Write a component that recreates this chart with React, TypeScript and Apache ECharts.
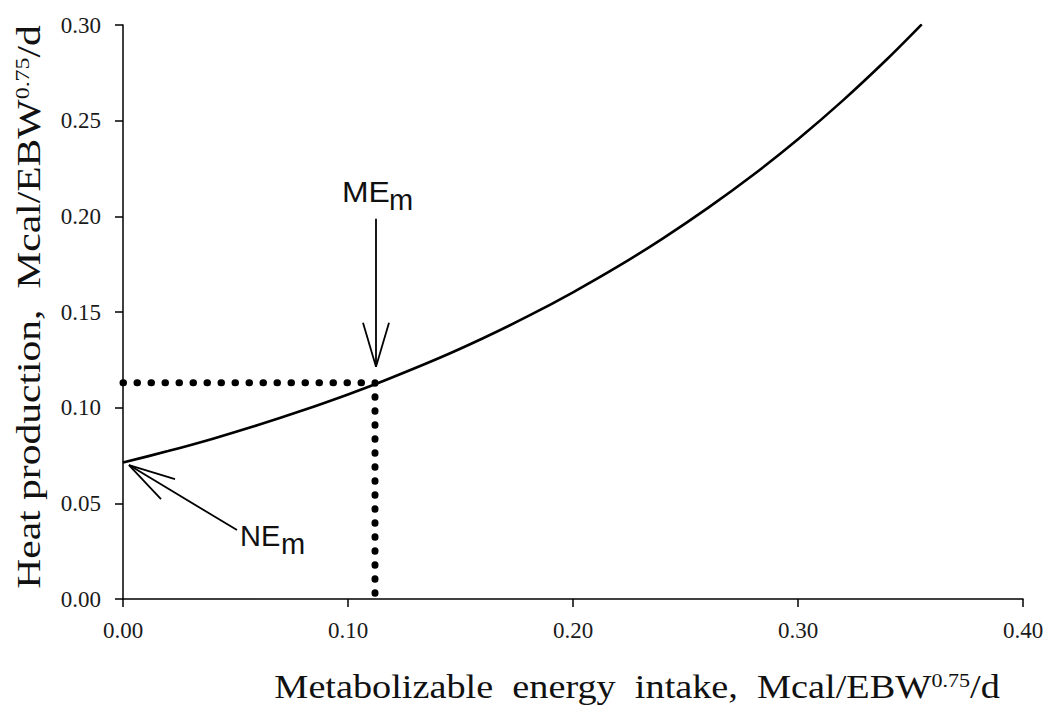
import React, { useEffect, useRef } from "react";
import * as echarts from "echarts";

// Metabolizable energy intake (Mcal/EBW^0.75/d) and heat production
const meIntake = [0, 0.02, 0.04, 0.06, 0.08, 0.1, 0.112, 0.14, 0.16, 0.18, 0.2, 0.22, 0.24, 0.26, 0.28, 0.3, 0.32, 0.34, 0.355];
const heatProduction = [0.0713, 0.0773, 0.0838, 0.0909, 0.0986, 0.1069, 0.1122, 0.1257, 0.1363, 0.1478, 0.1603, 0.1738, 0.1885, 0.2044, 0.2216, 0.2403, 0.2606, 0.2826, 0.3003];

// dotted guide through ME_m
const guideX = [0, 0.112, 0.112];
const guideY = [0.113, 0.113, 0];

const meM = [0.112, 0.113];
const neM = [0, 0.0713];

const xTicks = { min: 0, max: 0.4, interval: 0.1 };
const yTicks = { min: 0, max: 0.3, interval: 0.05 };

const xTitle = ["Metabolizable  energy  intake,  Mcal/EBW", "0.75", "/d"];
const yTitle = ["Heat production,  Mcal/EBW", "0.75", "/d"];

export default function App() {
  const ref = useRef<HTMLDivElement>(null);
  useEffect(() => {
    document.body.style.margin = "0";
    const chart = echarts.init(ref.current!, null, { renderer: "svg" });
    const serif = "'Liberation Serif', 'Times New Roman', serif";
    const sans = "'Liberation Sans', Arial, sans-serif";
    const axisCommon = {
      axisLine: { show: true, lineStyle: { color: "#000", width: 1.5 } },
      axisTick: { show: true, length: 8, lineStyle: { color: "#000", width: 1.5 } },
      splitLine: { show: false },
      axisLabel: { fontFamily: serif, fontSize: 23, color: "#1a1a1a", formatter: (v: number) => v.toFixed(2) },
    };
    chart.setOption({
      animation: false,
      backgroundColor: "#fff",
      grid: { left: 123, right: 23, top: 25, bottom: 106, outerBoundsMode: "none", containLabel: false },
      xAxis: {
        type: "value",
        ...xTicks,
        ...axisCommon,
        axisLabel: { ...axisCommon.axisLabel, margin: 20 },
      },
      yAxis: {
        type: "value",
        ...yTicks,
        ...axisCommon,
        axisLabel: { ...axisCommon.axisLabel, margin: 22 },
      },
      series: [
        {
          type: "line",
          data: meIntake.map((x, i) => [x, heatProduction[i]]),
          showSymbol: false,
          symbol: "none",
          smooth: 0.3,
          lineStyle: { color: "#000", width: 2.6 },
          z: 3,
        },
        {
          type: "line",
          data: guideX.map((x, i) => [x, guideY[i]]),
          showSymbol: false,
          symbol: "none",
          lineStyle: { color: "#000", width: 7, type: [0.5, 13.5], cap: "round" },
          z: 2,
        },
      ],
    });

    const me = chart.convertToPixel({ gridIndex: 0 }, meM) as number[];
    const ne = chart.convertToPixel({ gridIndex: 0 }, neM) as number[];
    const ln = (x1: number, y1: number, x2: number, y2: number) => ({
      type: "line",
      shape: { x1, y1, x2, y2 },
      style: { stroke: "#000", lineWidth: 1.8 },
      silent: true,
    });
    const mtip = [me[0] + 1, me[1] - 16];
    const ntip = [ne[0] + 6, ne[1] + 2.5];
    const titleRich = {
      t: { fontFamily: serif, fontSize: 33, fill: "#111", lineHeight: 36 },
      s: { fontFamily: serif, fontSize: 19, fill: "#111", lineHeight: 36, verticalAlign: "top", padding: [2, 0, 0, 0] },
    };
    const richText = (parts: string[]) => `{t|${parts[0]}}{s|${parts[1]}}{t|${parts[2]}}`;
    chart.setOption({
      graphic: [
        ln(mtip[0], mtip[1], mtip[0], mtip[1] - 148),
        ln(mtip[0], mtip[1], mtip[0] - 13, mtip[1] - 44),
        ln(mtip[0], mtip[1], mtip[0] + 13, mtip[1] - 44),
        ln(ntip[0], ntip[1], ntip[0] + 108, ntip[1] + 65),
        ln(ntip[0], ntip[1], ntip[0] + 46, ntip[1] + 14),
        ln(ntip[0], ntip[1], ntip[0] + 32, ntip[1] + 34),
        {
          type: "text",
          x: me[0] - 33,
          y: me[1] - 191,
          scaleX: 1.1,
          style: { text: "ME", font: `29px ${sans}`, fill: "#111", align: "left", verticalAlign: "middle" },
        },
        {
          type: "text",
          x: me[0] + 14,
          y: me[1] - 183,
          style: { text: "m", font: `29px ${sans}`, fill: "#111", align: "left", verticalAlign: "middle" },
        },
        {
          type: "text",
          x: ne[0] + 117,
          y: ne[1] + 73,
          style: { text: "NE", font: `29px ${sans}`, fill: "#111", align: "left", verticalAlign: "middle" },
        },
        {
          type: "text",
          x: ne[0] + 158,
          y: ne[1] + 81,
          style: { text: "m", font: `29px ${sans}`, fill: "#111", align: "left", verticalAlign: "middle" },
        },
        {
          type: "text",
          x: 637,
          y: 687,
          scaleX: 1.16,
          style: { text: richText(xTitle), align: "center", verticalAlign: "middle", rich: titleRich },
        },
        {
          type: "text",
          x: 29,
          y: 307,
          rotation: Math.PI / 2,
          scaleX: 1.26,
          style: { text: richText(yTitle), align: "center", verticalAlign: "middle", rich: titleRich },
        },
      ],
    });
    return () => chart.dispose();
  }, []);
  return <div ref={ref} style={{ width: 1046, height: 705 }} />;
}
